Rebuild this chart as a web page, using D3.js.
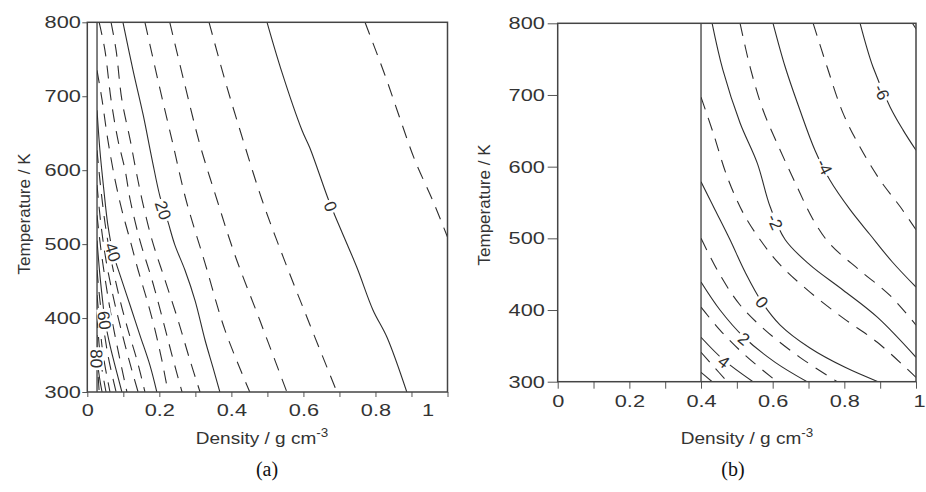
<!DOCTYPE html>
<html>
<head>
<meta charset="utf-8">
<script src="https://cdn.jsdelivr.net/npm/d3@7"></script>
<style>
  html, body { margin: 0; padding: 0; background: #fff; }
  svg { display: block; }
</style>
</head>
<body>
<svg id="chart" width="926" height="492"></svg>
<script>
// ---- data: [density g/cm3, temperature K] ----
var xTicks = [0, 0.1, 0.2, 0.3, 0.4, 0.5, 0.6, 0.7, 0.8, 0.9, 1];
var xTickLabels = [0, 0.2, 0.4, 0.6, 0.8, 1];
var yTicks = [300, 400, 500, 600, 700, 800];

// panel (a)
var leftEdge = 0.027;
var leftLevels = [-5, 0, 5, 10, 15, 20, 25, 30, 35, 40, 45, 50, 55, 60, 65, 70, 75, 80, 85];
var leftPaths = [
  [[0.771, 800], [0.826, 729], [0.868, 670], [0.909, 614], [0.959, 559], [0.998, 512], [1.02, 485]],
  [[0.499, 800], [0.540, 733], [0.596, 654], [0.618, 630], [0.668, 562], [0.687, 539], [0.748, 469], [0.793, 411], [0.832, 374], [0.887, 300]],
  [[0.338, 800], [0.382, 722], [0.424, 654], [0.485, 560], [0.549, 476], [0.618, 391], [0.693, 300]],
  [[0.229, 800], [0.271, 715], [0.313, 634], [0.360, 560], [0.410, 485], [0.479, 397], [0.554, 300]],
  [[0.160, 800], [0.196, 722], [0.235, 641], [0.274, 560], [0.327, 474], [0.382, 384], [0.451, 300]],
  [[0.099, 800], [0.127, 735], [0.155, 675], [0.180, 614], [0.202, 564], [0.224, 530], [0.243, 499], [0.271, 465], [0.299, 424], [0.327, 370], [0.349, 333], [0.368, 300]],
  [[0.066, 800], [0.080, 762], [0.096, 695], [0.119, 641], [0.135, 600], [0.152, 560], [0.180, 505], [0.216, 451], [0.252, 397], [0.285, 343], [0.313, 300]],
  [[0.033, 800], [0.049, 762], [0.066, 695], [0.085, 641], [0.105, 600], [0.119, 560], [0.146, 505], [0.180, 451], [0.210, 397], [0.235, 350], [0.263, 300]],
  [[0.027, 735], [0.041, 695], [0.057, 641], [0.077, 587], [0.096, 546], [0.119, 505], [0.141, 465], [0.166, 424], [0.188, 384], [0.207, 343], [0.224, 300]],
  [[0.027, 681], [0.035, 627], [0.046, 573], [0.057, 526], [0.071, 489], [0.091, 458], [0.119, 417], [0.146, 377], [0.174, 336], [0.193, 300]],
  [[0.027, 627], [0.038, 573], [0.052, 519], [0.069, 472], [0.091, 424], [0.113, 384], [0.138, 343], [0.160, 300]],
  [[0.027, 580], [0.038, 526], [0.052, 478], [0.071, 431], [0.091, 390], [0.116, 343], [0.141, 300]],
  [[0.027, 539], [0.038, 492], [0.052, 445], [0.066, 404], [0.085, 357], [0.110, 300]],
  [[0.027, 505], [0.035, 458], [0.044, 417], [0.049, 397], [0.063, 363], [0.080, 330], [0.096, 300]],
  [[0.027, 465], [0.035, 424], [0.046, 384], [0.060, 343], [0.080, 300]],
  [[0.027, 431], [0.035, 390], [0.044, 350], [0.063, 300]],
  [[0.027, 404], [0.033, 363], [0.041, 330], [0.052, 300]],
  [[0.027, 377], [0.028, 343], [0.035, 316], [0.041, 300]],
  [[0.027, 350], [0.030, 323], [0.033, 300]]
];
var leftLabels = [[0, 0.676, 551], [20, 0.211, 546], [40, 0.071, 489], [60, 0.048, 397], [80, 0.026, 345]];

// panel (b)
var rightEdge = 0.4;
var rightLevels = [-7, -6, -5, -4, -3, -2, -1, 0, 1, 2, 3, 4, 5, 6];
var rightPaths = [
  [[0.990, 800], [1.01, 785]],
  [[0.844, 800], [0.880, 739], [0.928, 683], [0.964, 651], [1.0, 623]],
  [[0.713, 800], [0.752, 739], [0.796, 675], [0.844, 627], [0.900, 581], [0.956, 544], [1.0, 512]],
  [[0.601, 800], [0.635, 739], [0.676, 679], [0.718, 623], [0.760, 581], [0.816, 540], [0.872, 505], [0.934, 467], [1.0, 432]],
  [[0.509, 800], [0.537, 739], [0.573, 679], [0.621, 623], [0.668, 572], [0.713, 526], [0.760, 492], [0.844, 455], [0.928, 420], [1.0, 379]],
  [[0.431, 800], [0.461, 735], [0.509, 661], [0.557, 605], [0.593, 544], [0.635, 498], [0.704, 463], [0.796, 428], [0.892, 390], [1.0, 334]],
  [[0.400, 697], [0.434, 647], [0.473, 586], [0.518, 535], [0.565, 498], [0.621, 463], [0.704, 425], [0.796, 389], [0.892, 355], [1.0, 306]],
  [[0.400, 579], [0.439, 540], [0.481, 498], [0.523, 453], [0.570, 411], [0.621, 379], [0.704, 347], [0.802, 320], [0.894, 300]],
  [[0.400, 500], [0.453, 449], [0.509, 407], [0.579, 372], [0.676, 334], [0.780, 300]],
  [[0.400, 439], [0.453, 400], [0.520, 362], [0.607, 327], [0.696, 300]],
  [[0.400, 404], [0.453, 372], [0.523, 337], [0.612, 300]],
  [[0.400, 362], [0.464, 330], [0.545, 300]],
  [[0.400, 341], [0.434, 322], [0.473, 300]],
  [[0.400, 313], [0.431, 300]]
];
var rightLabels = [[-6, 0.905, 704], [-4, 0.745, 600], [-2, 0.607, 523], [0, 0.570, 411], [2, 0.520, 360], [4, 0.464, 328]];

var svg = d3.select('#chart');
var ink = '#2e2e2e';
var sans = 'Liberation Sans, Arial, sans-serif';

function drawPanel(cfg) {
  var g = svg.append('g').attr('class', 'panel-' + cfg.name);
  var x = d3.scaleLinear().domain([0, 1]).range([cfg.left, cfg.right]);
  var y = d3.scaleLinear().domain([300, 800]).range([cfg.bottom, cfg.top]);

  var clipId = 'clip-' + cfg.name;
  svg.append('clipPath').attr('id', clipId)
    .append('rect')
      .attr('x', x(cfg.edge)).attr('y', y(800))
      .attr('width', x(1) - x(cfg.edge)).attr('height', y(300) - y(800));

  var line = d3.line()
    .x(function (d) { return x(d[0]); })
    .y(function (d) { return y(d[1]); })
    .curve(d3.curveCatmullRom.alpha(0.5));

  var body = g.append('g').attr('clip-path', 'url(#' + clipId + ')');
  body.selectAll('path.contour')
    .data(cfg.levels)
    .enter()
    .append('path')
      .attr('class', 'contour')
      .attr('d', function (lv, i) { return line(cfg.paths[i]); })
      .attr('fill', 'none')
      .attr('stroke', ink)
      .attr('stroke-width', 1.1)
      .attr('stroke-dasharray', function (lv) { return cfg.solid(lv) ? null : '13,9'; });

  // edge of the data region
  g.append('line')
    .attr('x1', x(cfg.edge)).attr('x2', x(cfg.edge))
    .attr('y1', y(800)).attr('y2', y(300))
    .attr('stroke', ink).attr('stroke-width', 1.2);

  // contour labels, rotated along the line
  cfg.labels.forEach(function (lb) {
    var path = cfg.paths[cfg.levels.indexOf(lb[0])];
    var px = x(lb[1]), py = y(lb[2]);
    var best = Infinity, ang = 0;
    for (var i = 0; i < path.length - 1; i++) {
      var x1 = x(path[i][0]), y1 = y(path[i][1]), x2 = x(path[i + 1][0]), y2 = y(path[i + 1][1]);
      var mx = (x1 + x2) / 2, my = (y1 + y2) / 2;
      var dd = (mx - px) * (mx - px) + (my - py) * (my - py);
      if (dd < best) { best = dd; ang = Math.atan2(y2 - y1, x2 - x1) * 180 / Math.PI; }
    }
    if (ang > 90) ang -= 180;
    if (ang <= -90) ang += 180;
    var lg = g.append('g').attr('transform', 'translate(' + px + ',' + py + ') rotate(' + ang + ')');
    var bg = lg.append('rect').attr('fill', '#fff');
    var t = lg.append('text')
      .attr('text-anchor', 'middle')
      .attr('dy', '0.36em')
      .attr('font-family', sans)
      .attr('font-size', 17)
      .attr('fill', ink)
      .text(String(lb[0]));
    var w = t.node().getComputedTextLength();
    bg.attr('x', -w / 2 - 2).attr('y', -7).attr('width', w + 4).attr('height', 14);
  });

  // axes
  var xAxis = d3.axisBottom(x)
    .tickValues(xTicks)
    .tickSize(cfg.xTickLen)
    .tickPadding(cfg.xPad)
    .tickFormat(function (v) {
      var hit = xTickLabels.filter(function (t) { return Math.abs(t - v) < 1e-9; });
      return hit.length ? String(hit[0]) : '';
    });
  var gx = g.append('g').attr('transform', 'translate(0,' + y(300) + ')').call(xAxis);
  gx.select('.domain').remove();
  gx.selectAll('line').attr('stroke', '#555');
  gx.selectAll('text')
    .attr('font-family', sans).attr('font-size', 17).attr('fill', '#333')
    .attr('transform', 'scale(1.28,1)')
    .filter(function (v) { return Math.abs(v - 1) < 1e-9; })
    .attr('x', cfg.lastDx / 1.28)
    .attr('text-anchor', cfg.lastAnchor);

  var yAxis = d3.axisLeft(y).tickValues(yTicks).tickSize(cfg.yTickLen).tickPadding(0).tickFormat(d3.format('d'));
  var gy = g.append('g').attr('transform', 'translate(' + x(0) + ',0)').call(yAxis);
  gy.select('.domain').remove();
  gy.selectAll('line').attr('stroke', '#555');
  gy.selectAll('text')
    .attr('font-family', sans).attr('font-size', 17).attr('fill', '#333')
    .attr('transform', 'scale(1.28,1)');

  // frame
  g.append('rect')
    .attr('x', x(0)).attr('y', y(800))
    .attr('width', x(1) - x(0)).attr('height', y(300) - y(800))
    .attr('fill', 'none').attr('stroke', '#444').attr('stroke-width', 1.5);

  // titles
  g.append('text')
    .attr('transform', 'translate(' + cfg.yTitleX + ',' + cfg.yTitleY + ') rotate(-90)')
    .attr('text-anchor', 'middle')
    .attr('font-family', sans).attr('font-size', 17).attr('fill', '#333')
    .text('Temperature / K');

  var xt = g.append('text')
    .attr('transform', 'translate(' + cfg.xTitleX + ',444) scale(1.12,1)')
    .attr('text-anchor', 'middle')
    .attr('font-family', sans).attr('font-size', 17).attr('fill', '#333');
  xt.append('tspan').text('Density / g cm');
  xt.append('tspan').attr('font-size', 12).attr('dy', -7).text('-3');

  svg.append('text')
    .attr('x', cfg.capX).attr('y', 476)
    .attr('text-anchor', 'middle')
    .attr('font-family', 'Liberation Serif, Times New Roman, serif')
    .attr('font-size', 20).attr('fill', '#111')
    .text(cfg.caption);
}

drawPanel({
  name: 'a', left: 87.3, right: 447.5, top: 22.3, bottom: 392,
  edge: leftEdge, levels: leftLevels, paths: leftPaths, labels: leftLabels,
  solid: function (lv) { return lv % 20 === 0; },
  xTickLen: 5, xPad: 7, yTickLen: 5, lastDx: -20, lastAnchor: 'middle',
  yTitleX: 30, yTitleY: 214, xTitleX: 262, capX: 267, caption: '(a)'
});

drawPanel({
  name: 'b', left: 557.7, right: 916, top: 23.3, bottom: 381.7,
  edge: rightEdge, levels: rightLevels, paths: rightPaths, labels: rightLabels,
  solid: function (lv) { return lv % 2 === 0; },
  xTickLen: 7, xPad: 6, yTickLen: 10, lastDx: 9, lastAnchor: 'end',
  yTitleX: 490, yTitleY: 205, xTitleX: 747, capX: 733, caption: '(b)'
});
</script>
</body>
</html>
